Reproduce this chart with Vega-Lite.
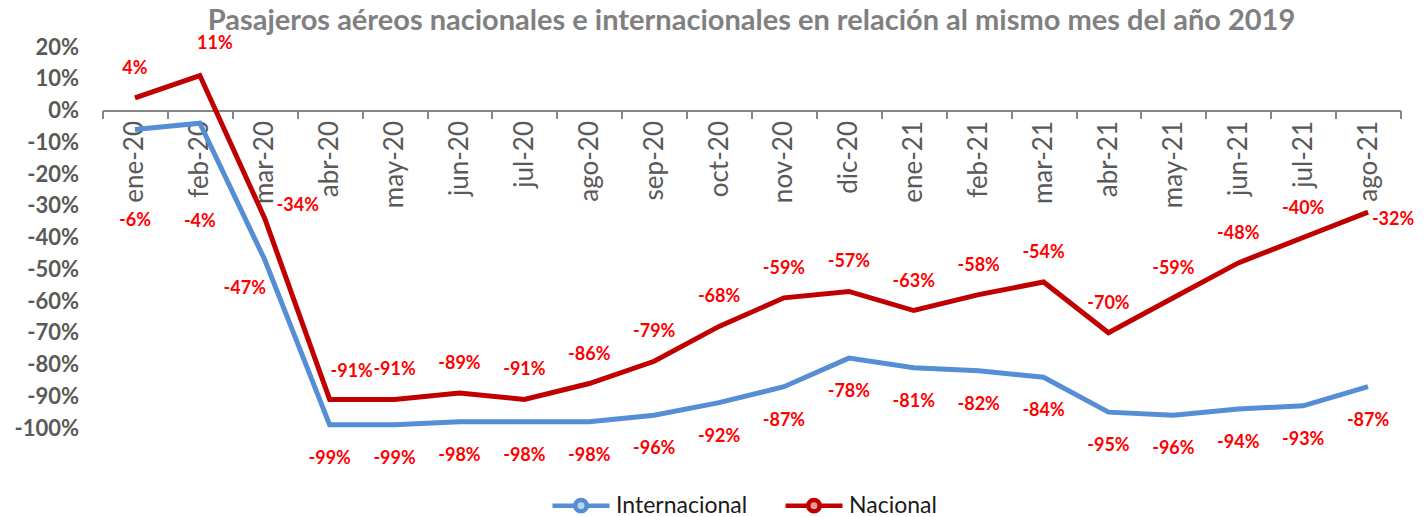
{
  "$schema": "https://vega.github.io/schema/vega-lite/v6.json",
  "autosize": {"type": "none"},
  "width": 1298,
  "height": 381,
  "padding": {"left": 102.5, "top": 47, "right": 24.5, "bottom": 89},
  "background": "white",
  "config": {
    "view": {"stroke": null},
    "font": "Lato",
    "axis": {"grid": false},
    "locale": {
      "number": {"decimal": ".", "thousands": ",", "grouping": [3], "currency": ["$", ""], "minus": "-", "percent": "%"}
    }
  },
  "title": {
    "text": "Pasajeros aéreos nacionales e internacionales en relación al mismo mes del año 2019",
    "font": "Lato",
    "fontSize": 29,
    "fontWeight": "bold",
    "color": "#808080",
    "anchor": "middle",
    "offset": -1
  },
  "data": {
    "values": [
      {"mes": "ene-20", "serie": "Internacional", "valor": -0.06},
      {"mes": "feb-20", "serie": "Internacional", "valor": -0.04},
      {"mes": "mar-20", "serie": "Internacional", "valor": -0.47},
      {"mes": "abr-20", "serie": "Internacional", "valor": -0.99},
      {"mes": "may-20", "serie": "Internacional", "valor": -0.99},
      {"mes": "jun-20", "serie": "Internacional", "valor": -0.98},
      {"mes": "jul-20", "serie": "Internacional", "valor": -0.98},
      {"mes": "ago-20", "serie": "Internacional", "valor": -0.98},
      {"mes": "sep-20", "serie": "Internacional", "valor": -0.96},
      {"mes": "oct-20", "serie": "Internacional", "valor": -0.92},
      {"mes": "nov-20", "serie": "Internacional", "valor": -0.87},
      {"mes": "dic-20", "serie": "Internacional", "valor": -0.78},
      {"mes": "ene-21", "serie": "Internacional", "valor": -0.81},
      {"mes": "feb-21", "serie": "Internacional", "valor": -0.82},
      {"mes": "mar-21", "serie": "Internacional", "valor": -0.84},
      {"mes": "abr-21", "serie": "Internacional", "valor": -0.95},
      {"mes": "may-21", "serie": "Internacional", "valor": -0.96},
      {"mes": "jun-21", "serie": "Internacional", "valor": -0.94},
      {"mes": "jul-21", "serie": "Internacional", "valor": -0.93},
      {"mes": "ago-21", "serie": "Internacional", "valor": -0.87},
      {"mes": "ene-20", "serie": "Nacional", "valor": 0.04},
      {"mes": "feb-20", "serie": "Nacional", "valor": 0.11},
      {"mes": "mar-20", "serie": "Nacional", "valor": -0.34},
      {"mes": "abr-20", "serie": "Nacional", "valor": -0.91},
      {"mes": "may-20", "serie": "Nacional", "valor": -0.91},
      {"mes": "jun-20", "serie": "Nacional", "valor": -0.89},
      {"mes": "jul-20", "serie": "Nacional", "valor": -0.91},
      {"mes": "ago-20", "serie": "Nacional", "valor": -0.86},
      {"mes": "sep-20", "serie": "Nacional", "valor": -0.79},
      {"mes": "oct-20", "serie": "Nacional", "valor": -0.68},
      {"mes": "nov-20", "serie": "Nacional", "valor": -0.59},
      {"mes": "dic-20", "serie": "Nacional", "valor": -0.57},
      {"mes": "ene-21", "serie": "Nacional", "valor": -0.63},
      {"mes": "feb-21", "serie": "Nacional", "valor": -0.58},
      {"mes": "mar-21", "serie": "Nacional", "valor": -0.54},
      {"mes": "abr-21", "serie": "Nacional", "valor": -0.70},
      {"mes": "may-21", "serie": "Nacional", "valor": -0.59},
      {"mes": "jun-21", "serie": "Nacional", "valor": -0.48},
      {"mes": "jul-21", "serie": "Nacional", "valor": -0.40},
      {"mes": "ago-21", "serie": "Nacional", "valor": -0.32}
    ]
  },
  "encoding": {
    "x": {
      "field": "mes",
      "type": "nominal",
      "sort": null,
      "bandPosition": 0.5,
      "scale": {"type": "band", "paddingInner": 0, "paddingOuter": 0},
      "axis": {
        "title": null,
        "orient": "bottom",
        "offset": -317.5,
        "labelAngle": -90,
        "labelFont": "Lato",
        "labelFontSize": 26,
        "labelColor": "#595959",
        "labelPadding": 2,
        "domainColor": "#868686",
        "domainWidth": 2,
        "tickColor": "#868686",
        "tickWidth": 2,
        "tickSize": 8,
        "tickBand": "extent"
      }
    },
    "y": {
      "field": "valor",
      "type": "quantitative",
      "scale": {"domain": [-1, 0.2], "nice": false, "zero": false},
      "axis": {
        "title": null,
        "format": ".0%",
        "values": [-1, -0.9, -0.8, -0.7, -0.6, -0.5, -0.4, -0.3, -0.2, -0.1, 0, 0.1, 0.2],
        "domain": false,
        "ticks": false,
        "labelPadding": 24,
        "labelFont": "Lato",
        "labelFontSize": 22,
        "labelFontWeight": "bold",
        "labelColor": "#595959"
      }
    }
  },
  "layer": [
    {
      "mark": {"type": "line", "strokeWidth": 5},
      "encoding": {
        "color": {
          "field": "serie",
          "type": "nominal",
          "scale": {"domain": ["Internacional", "Nacional"], "range": ["#558ED5", "#C00000"]},
          "legend": {
            "title": null,
            "orient": "none",
            "legendX": 447.5,
            "legendY": 427.5,
            "direction": "horizontal",
            "symbolType": "M-1,0H-0.2M0.2,0H1M0.2,0A0.2,0.2 0 1,1 -0.2,0A0.2,0.2 0 1,1 0.2,0",
            "symbolSize": 3249,
            "symbolStrokeWidth": 4.5,
            "labelFont": "Lato",
            "labelFontSize": 23,
            "labelColor": "#1a1a1a",
            "labelOffset": 4,
            "columnPadding": 28,
            "encode": {
              "symbols": {
                "update": {
                  "fill": {"scale": "color", "field": "value"},
                  "fillOpacity": {"value": 0.4}
                }
              }
            }
          }
        }
      }
    },
    {
      "transform": [{"filter": "datum.serie == 'Internacional' && indexof(['ene-20','feb-20','mar-20'], datum.mes) < 0"}],
      "mark": {"type": "text", "dy": 34, "baseline": "middle", "color": "#FF0000", "fontWeight": "bold", "fontSize": 18, "font": "Lato"},
      "encoding": {"text": {"field": "valor", "type": "quantitative", "format": ".0%"}}
    },
    {
      "transform": [{"filter": "datum.serie == 'Internacional' && datum.mes == 'ene-20'"}],
      "mark": {"type": "text", "dy": 91, "baseline": "middle", "color": "#FF0000", "fontWeight": "bold", "fontSize": 18, "font": "Lato"},
      "encoding": {"text": {"field": "valor", "type": "quantitative", "format": ".0%"}}
    },
    {
      "transform": [{"filter": "datum.serie == 'Internacional' && datum.mes == 'feb-20'"}],
      "mark": {"type": "text", "dy": 99, "baseline": "middle", "color": "#FF0000", "fontWeight": "bold", "fontSize": 18, "font": "Lato"},
      "encoding": {"text": {"field": "valor", "type": "quantitative", "format": ".0%"}}
    },
    {
      "transform": [{"filter": "datum.serie == 'Internacional' && datum.mes == 'mar-20'"}],
      "mark": {"type": "text", "dx": -20, "dy": 29, "baseline": "middle", "color": "#FF0000", "fontWeight": "bold", "fontSize": 18, "font": "Lato"},
      "encoding": {"text": {"field": "valor", "type": "quantitative", "format": ".0%"}}
    },
    {
      "transform": [{"filter": "datum.serie == 'Nacional' && indexof(['feb-20','mar-20','abr-20','ago-21'], datum.mes) < 0"}],
      "mark": {"type": "text", "dy": -29, "baseline": "middle", "color": "#FF0000", "fontWeight": "bold", "fontSize": 18, "font": "Lato"},
      "encoding": {"text": {"field": "valor", "type": "quantitative", "format": ".0%"}}
    },
    {
      "transform": [{"filter": "datum.serie == 'Nacional' && datum.mes == 'feb-20'"}],
      "mark": {"type": "text", "dx": 15, "dy": -32, "baseline": "middle", "color": "#FF0000", "fontWeight": "bold", "fontSize": 18, "font": "Lato"},
      "encoding": {"text": {"field": "valor", "type": "quantitative", "format": ".0%"}}
    },
    {
      "transform": [{"filter": "datum.serie == 'Nacional' && datum.mes == 'mar-20'"}],
      "mark": {"type": "text", "dx": 33, "dy": -12, "baseline": "middle", "color": "#FF0000", "fontWeight": "bold", "fontSize": 18, "font": "Lato"},
      "encoding": {"text": {"field": "valor", "type": "quantitative", "format": ".0%"}}
    },
    {
      "transform": [{"filter": "datum.serie == 'Nacional' && datum.mes == 'abr-20'"}],
      "mark": {"type": "text", "dx": 22, "dy": -27, "baseline": "middle", "color": "#FF0000", "fontWeight": "bold", "fontSize": 18, "font": "Lato"},
      "encoding": {"text": {"field": "valor", "type": "quantitative", "format": ".0%"}}
    },
    {
      "transform": [{"filter": "datum.serie == 'Nacional' && datum.mes == 'ago-21'"}],
      "mark": {"type": "text", "dx": 25, "dy": 8, "baseline": "middle", "color": "#FF0000", "fontWeight": "bold", "fontSize": 18, "font": "Lato"},
      "encoding": {"text": {"field": "valor", "type": "quantitative", "format": ".0%"}}
    }
  ]
}
